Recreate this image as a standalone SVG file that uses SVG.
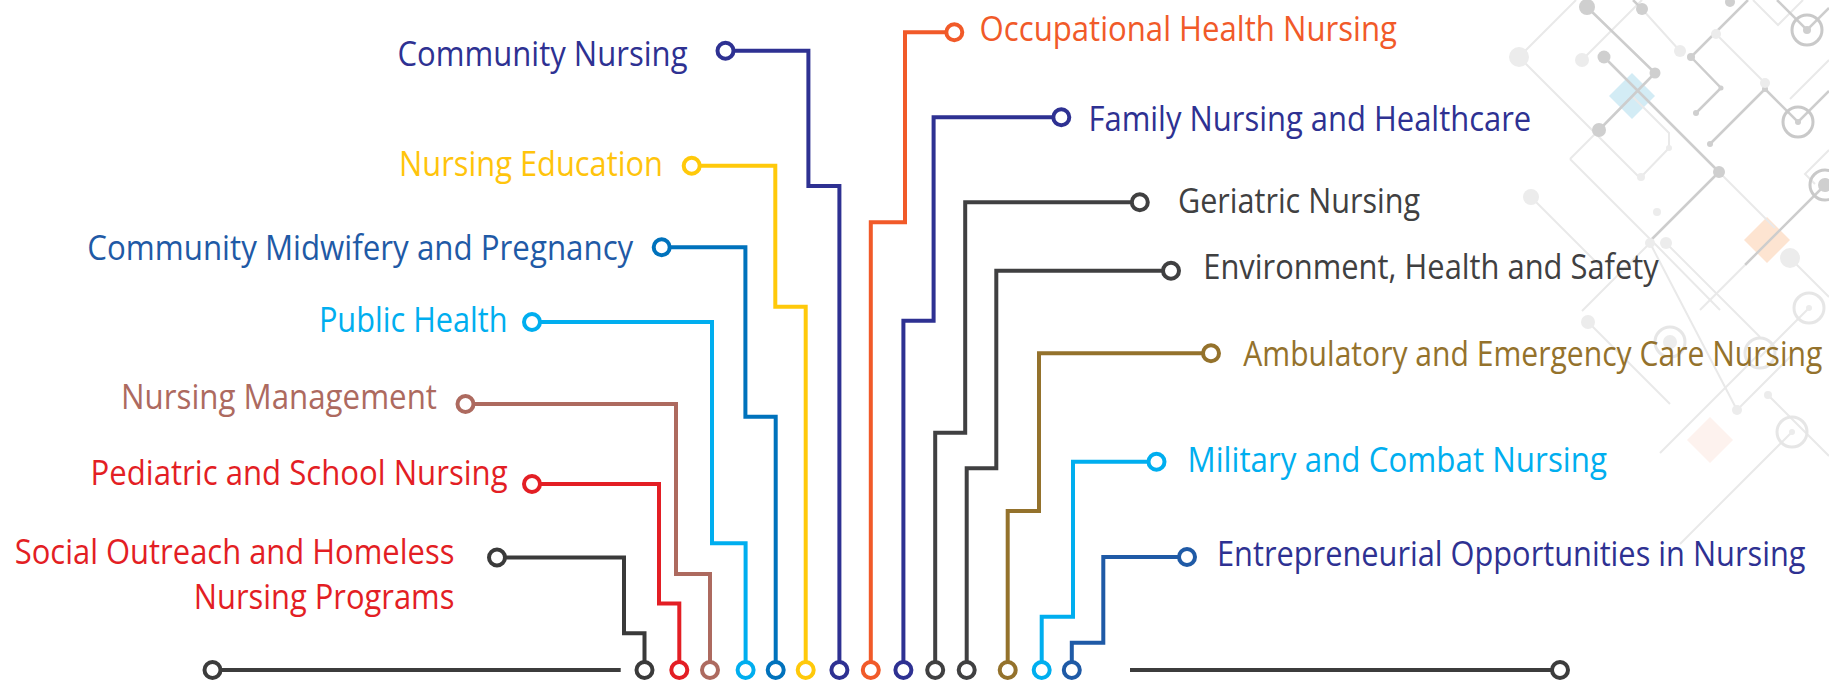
<svg xmlns="http://www.w3.org/2000/svg" width="1829" height="680" viewBox="0 0 1829 680">
<style>
  .lbl { font-family: "Open Sans", "Noto Sans", "Liberation Sans", sans-serif; font-size: 31px; }
  .end { text-anchor: end; }
  .start { text-anchor: start; }
  .wire { fill: none; stroke-width: 4; stroke-linejoin: miter; stroke-linecap: butt; }
  .dot { fill: #ffffff; stroke-width: 4; }
  .dm { stroke: #cdcdcd; stroke-width: 2.5; fill: none; }
  .dl { stroke: #e9e9e9; stroke-width: 2; fill: none; }
  .fm { fill: #cfcfcf; }
  .fl { fill: #ececec; }
  .rm { fill: none; stroke: #c9c9c9; stroke-width: 3; }
  .rl { fill: none; stroke: #e6e6e6; stroke-width: 3; }
</style>
<rect width="1829" height="680" fill="#ffffff"/>

<g id="background-decoration">
  <polygon points="1632,73 1655,96 1632,119 1609,96" fill="#d3ecf5"/>
  <polygon points="1767,217 1790,240 1767,263 1744,240" fill="#fde4d1"/>
  <polygon points="1710,417 1733,440 1710,463 1687,440" fill="#fdf2ee"/>
  <path class="dl" d="M1519,57 L1576,0 M1519,57 L1640,178 M1582,60 L1642,0 M1642,9 L1680,51 M1716,34 L1765,83 M1753,0 L1778,25 L1803,0 M1632,96 L1669,133 L1669,148 L1641,177 M1599,130 L1570,159 M1570,159 L1657,246 L1720,310 M1650,243 L1582,311 M1666,243 L1760,337 M1719,172 L1775,228 M1829,60 L1790,99 M1829,150 L1805,174 L1815,184 M1760,353 L1660,453 M1737,410 L1792,355 M1792,432 L1740,484 L1680,544 M1768,395 L1829,456 M1790,258 L1829,297 M1809,308 L1760,357 M1588,322 L1670,404 M1531,197 L1600,266"/>
  <path class="dm" d="M1587,7 L1655,73 M1604,57 L1719,172 M1655,73 L1599,130 M1719,172 L1650,241 M1691,57 L1748,0 M1691,57 L1721,88 L1696,113 M1777,0 L1807,30 L1829,8 M1765,89 L1710,144 M1765,89 L1798,122 L1829,91 M1825,185 L1745,265 M1642,9 L1633,0"/>
  <path class="dl" d="M1650,243 L1737,410 M1745,265 L1700,310"/>
  <circle class="fm" cx="1587" cy="7" r="8"/>
  <circle class="fm" cx="1642" cy="9" r="6"/>
  <circle class="fm" cx="1604" cy="57" r="6.5"/>
  <circle class="fm" cx="1655" cy="73" r="5.5"/>
  <circle class="fm" cx="1599" cy="130" r="7"/>
  <circle class="fm" cx="1719" cy="172" r="6"/>
  <circle class="fl" cx="1650" cy="243" r="5"/>
  <circle class="fm" cx="1730" cy="2" r="5"/>
  <circle class="fm" cx="1691" cy="57" r="4"/>
  <circle class="fm" cx="1721" cy="88" r="2.5"/>
  <circle class="fm" cx="1696" cy="113" r="3"/>
  <circle class="fm" cx="1765" cy="89" r="3"/>
  <circle class="fm" cx="1710" cy="144" r="3"/>
  <circle class="fm" cx="1807" cy="30" r="4"/>
  <circle class="rm" cx="1807" cy="30" r="15"/>
  <circle class="fm" cx="1798" cy="122" r="3"/>
  <circle class="rm" cx="1798" cy="122" r="15"/>
  <circle class="fm" cx="1825" cy="185" r="7"/>
  <circle class="rm" cx="1825" cy="185" r="15"/>
  <circle class="fl" cx="1809" cy="308" r="3"/>
  <circle class="rl" cx="1809" cy="308" r="15"/>
  <circle class="fl" cx="1670" cy="342" r="7"/>
  <circle class="rl" cx="1670" cy="342" r="15"/>
  <circle class="rl" cx="1760" cy="353" r="15"/>
  <circle class="fl" cx="1792" cy="432" r="3"/>
  <circle class="rl" cx="1792" cy="432" r="15"/>
  <circle class="fl" cx="1680" cy="51" r="6"/>
  <circle class="fl" cx="1519" cy="57" r="10"/>
  <circle class="fl" cx="1582" cy="60" r="7"/>
  <circle class="fl" cx="1716" cy="34" r="5"/>
  <circle class="fl" cx="1765" cy="83" r="5"/>
  <circle class="fl" cx="1790" cy="258" r="10"/>
  <circle class="fl" cx="1737" cy="410" r="5"/>
  <circle class="fl" cx="1768" cy="395" r="4"/>
  <circle class="fl" cx="1588" cy="322" r="7"/>
  <circle class="fl" cx="1531" cy="197" r="8"/>
  <circle class="fl" cx="1666" cy="243" r="6"/>
  <circle class="fl" cx="1657" cy="212" r="4"/>
  <circle class="fl" cx="1641" cy="177" r="4"/>
  <circle class="fl" cx="1669" cy="148" r="3"/>
</g>

<g id="connectors">
  <path class="wire" stroke="#3c3c3c" d="M212,670 H620.7 M1130,670 H1560"/>
  <path class="wire" stroke="#3a3a3a" d="M497,557.5 H624 V633.3 H644.5 V670"/>
  <path class="wire" stroke="#e31e24" d="M532,484 H659 V603.5 H679.3 V670"/>
  <path class="wire" stroke="#ad6a5f" d="M465.5,404 H676 V574 H710 V670"/>
  <path class="wire" stroke="#00aeef" d="M532,322 H712 V543.3 H745.6 V670"/>
  <path class="wire" stroke="#0072bc" d="M661.7,247.3 H745.4 V416.7 H775.7 V670"/>
  <path class="wire" stroke="#ffc90a" d="M691.7,165.7 H775.3 V306.7 H805.7 V670"/>
  <path class="wire" stroke="#2e3192" d="M725.5,50.7 H808.4 V186 H839.4 V670"/>
  <path class="wire" stroke="#f15a29" d="M954.3,32.3 H905 V222.3 H870.8 V670"/>
  <path class="wire" stroke="#2e3192" d="M1061.3,117.3 H933.6 V320.7 H903.4 V670"/>
  <path class="wire" stroke="#404041" d="M1139.8,202.3 H965.2 V432.7 H935.2 V670"/>
  <path class="wire" stroke="#404041" d="M1171,270.7 H996.3 V468.3 H966.7 V670"/>
  <path class="wire" stroke="#94722c" d="M1211,353.3 H1039 V511 H1007.7 V670"/>
  <path class="wire" stroke="#00aeef" d="M1156.5,461.7 H1073 V616.7 H1041.7 V670"/>
  <path class="wire" stroke="#1f5aa6" d="M1187,557 H1103.3 V642.7 H1071.8 V670"/>
</g>

<g id="bus-ends">
  <circle class="dot" stroke="#3c3c3c" cx="212.5" cy="670" r="8"/>
  <circle class="dot" stroke="#3c3c3c" cx="1560" cy="670" r="8"/>
</g>

<g id="node-social-outreach">
  <text class="lbl end" fill="#e31e24" transform="translate(0,563.5) scale(1,1.129)" x="454.4" y="0" textLength="439.6" lengthAdjust="spacingAndGlyphs">Social Outreach and Homeless</text>
  <text class="lbl end" fill="#e31e24" transform="translate(0,608.5) scale(1,1.129)" x="454.4" y="0" textLength="260.7" lengthAdjust="spacingAndGlyphs">Nursing Programs</text>
  <circle class="dot" stroke="#3a3a3a" cx="497" cy="557.5" r="8"/>
  <circle class="dot" stroke="#3a3a3a" cx="644.5" cy="670" r="8"/>
</g>
<g id="node-pediatric">
  <text class="lbl end" fill="#e31e24" transform="translate(0,485.3) scale(1,1.129)" x="507.6" y="0" textLength="417" lengthAdjust="spacingAndGlyphs">Pediatric and School Nursing</text>
  <circle class="dot" stroke="#e31e24" cx="532" cy="484" r="8"/>
  <circle class="dot" stroke="#e31e24" cx="679.3" cy="670" r="8"/>
</g>
<g id="node-nursing-management">
  <text class="lbl end" fill="#ad6a5f" transform="translate(0,409) scale(1,1.129)" x="437" y="0" textLength="316" lengthAdjust="spacingAndGlyphs">Nursing Management</text>
  <circle class="dot" stroke="#ad6a5f" cx="465.5" cy="404" r="8"/>
  <circle class="dot" stroke="#ad6a5f" cx="710" cy="670" r="8"/>
</g>
<g id="node-public-health">
  <text class="lbl end" fill="#00aeef" transform="translate(0,331.7) scale(1,1.129)" x="507.6" y="0" textLength="188.7" lengthAdjust="spacingAndGlyphs">Public Health</text>
  <circle class="dot" stroke="#00aeef" cx="532" cy="322" r="8"/>
  <circle class="dot" stroke="#00aeef" cx="745.6" cy="670" r="8"/>
</g>
<g id="node-community-midwifery">
  <text class="lbl end" fill="#1f5aa6" transform="translate(0,260) scale(1,1.129)" x="633.3" y="0" textLength="546" lengthAdjust="spacingAndGlyphs">Community Midwifery and Pregnancy</text>
  <circle class="dot" stroke="#0072bc" cx="661.7" cy="247.3" r="8"/>
  <circle class="dot" stroke="#0072bc" cx="775.7" cy="670" r="8"/>
</g>
<g id="node-nursing-education">
  <text class="lbl end" fill="#ffc40c" transform="translate(0,176.3) scale(1,1.129)" x="663" y="0" textLength="264" lengthAdjust="spacingAndGlyphs">Nursing Education</text>
  <circle class="dot" stroke="#ffc90a" cx="691.7" cy="165.7" r="8"/>
  <circle class="dot" stroke="#ffc90a" cx="805.7" cy="670" r="8"/>
</g>
<g id="node-community-nursing">
  <text class="lbl end" fill="#2e3192" transform="translate(0,65.5) scale(1,1.129)" x="687.5" y="0" textLength="290" lengthAdjust="spacingAndGlyphs">Community Nursing</text>
  <circle class="dot" stroke="#2e3192" cx="725.5" cy="50.7" r="8"/>
  <circle class="dot" stroke="#2e3192" cx="839.4" cy="670" r="8"/>
</g>
<g id="node-occupational-health">
  <text class="lbl start" fill="#f15a29" transform="translate(0,41) scale(1,1.129)" x="979.6" y="0" textLength="417.4" lengthAdjust="spacingAndGlyphs">Occupational Health Nursing</text>
  <circle class="dot" stroke="#f15a29" cx="954.3" cy="32.3" r="8"/>
  <circle class="dot" stroke="#f15a29" cx="870.8" cy="670" r="8"/>
</g>
<g id="node-family-nursing">
  <text class="lbl start" fill="#2e3192" transform="translate(0,131) scale(1,1.129)" x="1088.5" y="0" textLength="442.7" lengthAdjust="spacingAndGlyphs">Family Nursing and Healthcare</text>
  <circle class="dot" stroke="#2e3192" cx="1061.3" cy="117.3" r="8"/>
  <circle class="dot" stroke="#2e3192" cx="903.4" cy="670" r="8"/>
</g>
<g id="node-geriatric">
  <text class="lbl start" fill="#404041" transform="translate(0,212.5) scale(1,1.129)" x="1178" y="0" textLength="242" lengthAdjust="spacingAndGlyphs">Geriatric Nursing</text>
  <circle class="dot" stroke="#404041" cx="1139.8" cy="202.3" r="8"/>
  <circle class="dot" stroke="#404041" cx="935.2" cy="670" r="8"/>
</g>
<g id="node-environment">
  <text class="lbl start" fill="#404041" transform="translate(0,278.5) scale(1,1.129)" x="1203.3" y="0" textLength="455.5" lengthAdjust="spacingAndGlyphs">Environment, Health and Safety</text>
  <circle class="dot" stroke="#404041" cx="1171" cy="270.7" r="8"/>
  <circle class="dot" stroke="#404041" cx="966.7" cy="670" r="8"/>
</g>
<g id="node-ambulatory">
  <text class="lbl start" fill="#94722c" style="font-size:29px" transform="translate(0,366) scale(1,1.207)" x="1243.3" y="0" textLength="579" lengthAdjust="spacingAndGlyphs">Ambulatory and Emergency Care Nursing</text>
  <circle class="dot" stroke="#94722c" cx="1211" cy="353.3" r="8"/>
  <circle class="dot" stroke="#94722c" cx="1007.7" cy="670" r="8"/>
</g>
<g id="node-military">
  <text class="lbl start" fill="#00aeef" transform="translate(0,472.3) scale(1,1.129)" x="1187.5" y="0" textLength="419.5" lengthAdjust="spacingAndGlyphs">Military and Combat Nursing</text>
  <circle class="dot" stroke="#00aeef" cx="1156.5" cy="461.7" r="8"/>
  <circle class="dot" stroke="#00aeef" cx="1041.7" cy="670" r="8"/>
</g>
<g id="node-entrepreneurial">
  <text class="lbl start" fill="#2e3192" transform="translate(0,565.5) scale(1,1.129)" x="1217" y="0" textLength="588.5" lengthAdjust="spacingAndGlyphs">Entrepreneurial Opportunities in Nursing</text>
  <circle class="dot" stroke="#1f5aa6" cx="1187" cy="557" r="8"/>
  <circle class="dot" stroke="#1f5aa6" cx="1071.8" cy="670" r="8"/>
</g>
</svg>
